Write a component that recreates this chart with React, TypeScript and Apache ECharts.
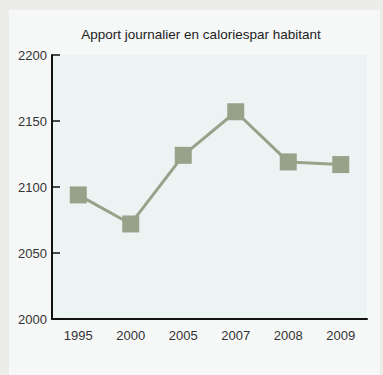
import React, { useEffect, useRef } from "react";
import * as echarts from "echarts";

const title = "Apport journalier en caloriespar habitant";
const years = ["1995", "2000", "2005", "2007", "2008", "2009"];
const calories = [2094, 2072, 2124, 2157, 2119, 2117];
const yMin = 2000;
const yMax = 2200;
const yStep = 50;

export default function App() {
  const ref = useRef<HTMLDivElement>(null);
  useEffect(() => {
    if (!ref.current) return;
    const chart = echarts.init(ref.current, undefined, { renderer: "svg" });
    const font = "'Liberation Sans', Arial, Helvetica, sans-serif";
    chart.setOption({
      animation: false,
      backgroundColor: "#ececeb",
      graphic: [
        {
          type: "rect",
          z: -10,
          silent: true,
          shape: { x: 9, y: 10, width: 371, height: 370 },
          style: { fill: "#f6f8f7" },
        },
      ],
      title: {
        text: title,
        left: 196,
        top: 22,
        textAlign: "center",
        textStyle: { fontFamily: font, fontSize: 13.5, fontWeight: "normal", color: "#222" },
      },
      grid: {
        left: 52,
        right: 16,
        top: 55,
        bottom: 56,
        show: true,
        backgroundColor: "#ebf4f3",
        borderWidth: 0,
        containLabel: false,
      },
      xAxis: {
        type: "category",
        data: years,
        boundaryGap: true,
        axisLine: { lineStyle: { color: "#111", width: 2 } },
        axisTick: { inside: true, length: 6, lineStyle: { color: "#111", width: 1.5 } },
        axisLabel: { fontFamily: font, fontSize: 13, color: "#333", margin: 10 },
        splitLine: { show: false },
      },
      yAxis: {
        type: "value",
        min: yMin,
        max: yMax,
        interval: yStep,
        axisLine: { show: true, lineStyle: { color: "#111", width: 2 } },
        axisTick: { show: true, inside: true, length: 8, lineStyle: { color: "#111", width: 1.5 } },
        axisLabel: {
          fontFamily: font,
          fontSize: 13,
          color: "#333",
          margin: 5,
          formatter: (v: number) => String(v),
        },
        splitLine: { show: false },
      },
      series: [
        {
          type: "line",
          data: calories,
          symbol: "rect",
          symbolSize: 17,
          lineStyle: { color: "#97a28b", width: 3 },
          itemStyle: { color: "#97a28b" },
        },
      ],
    });
    return () => chart.dispose();
  }, []);
  return (
    <div
      ref={ref}
      style={{ position: "absolute", left: 0, top: 0, width: 383, height: 375 }}
    />
  );
}
